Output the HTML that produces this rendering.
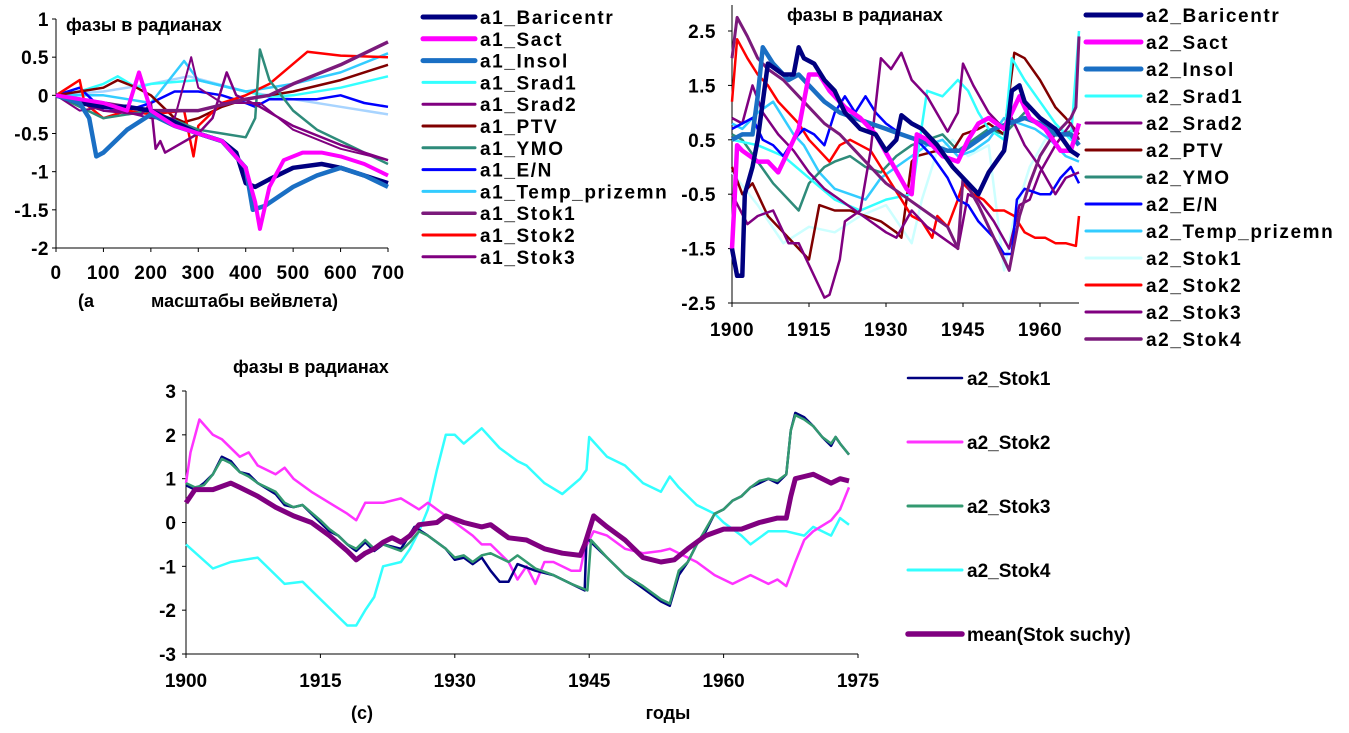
<!DOCTYPE html>
<html><head><meta charset="utf-8">
<style>
html,body{margin:0;padding:0;background:#fff;width:1349px;height:733px;overflow:hidden}
svg text{font-family:"Liberation Sans",Arial,sans-serif;font-weight:bold;fill:#000}
.wide{letter-spacing:1.6px}
.tk{letter-spacing:0.5px}
</style></head>
<body>
<svg id="root" width="1349" height="733" xmlns="http://www.w3.org/2000/svg"></svg>
<script>
// ---------- Chart A data (x = wavelet scale, y = phase) ----------
const aTicksX = [0,100,200,300,400,500,600,700];
const aTicksY = [1,0.5,0,-0.5,-1,-1.5,-2];
const aTickLabelsY = ["1","0.5","0","-0.5","-1","-1.5","-2"];
const aBaricentr = [[0,0],[50,-0.1],[100,-0.15],[150,-0.15],[200,-0.2],[250,-0.35],[300,-0.5],[350,-0.6],[380,-0.75],[400,-1.15],[420,-1.2],[450,-1.1],[500,-0.95],[560,-0.9],[600,-0.95],[650,-1.05],[700,-1.15]];
const aSact = [[0,0],[100,-0.1],[150,-0.2],[175,0.3],[200,-0.2],[250,-0.4],[300,-0.5],[350,-0.6],[400,-0.95],[420,-1.4],[430,-1.75],[450,-1.2],[480,-0.85],[520,-0.75],[560,-0.75],[600,-0.8],[650,-0.9],[700,-1.05]];
const aInsol = [[0,0],[50,-0.1],[70,-0.3],[85,-0.8],[100,-0.75],[150,-0.45],[200,-0.25],[250,-0.4],[300,-0.5],[350,-0.6],[400,-0.95],[415,-1.5],[440,-1.45],[500,-1.2],[550,-1.05],[600,-0.95],[650,-1.05],[700,-1.2]];
const aSrad1 = [[0,0],[50,0.05],[100,0.15],[130,0.25],[170,0.1],[200,0.15],[300,0.2],[400,0.05],[450,-0.02],[500,0],[600,0.1],[700,0.25]];
const aSrad2 = [[0,0],[100,-0.2],[180,-0.25],[200,-0.1],[210,-0.7],[220,-0.6],[230,-0.75],[300,-0.5],[330,-0.3],[360,0.3],[380,0],[430,-0.15],[500,-0.4],[600,-0.65],[700,-0.85]];
const aPTV = [[0,0],[50,0.05],[100,0.1],[130,0.2],[170,0.1],[200,0],[250,-0.3],[270,-0.35],[300,-0.3],[350,-0.15],[400,-0.05],[450,0],[500,0.05],[600,0.2],[700,0.4]];
const aYMO = [[0,0],[100,-0.3],[200,-0.2],[300,-0.45],[350,-0.5],[400,-0.55],[420,-0.3],[430,0.6],[450,0.2],[500,-0.2],[550,-0.45],[600,-0.6],[700,-0.9]];
const aEN = [[0,0],[50,0.1],[100,-0.2],[150,-0.2],[200,-0.1],[250,0.05],[300,0.05],[350,0],[400,-0.1],[420,-0.15],[450,-0.05],[550,-0.05],[600,0],[650,-0.1],[700,-0.15]];
const aTemp = [[0,0],[100,0],[200,-0.1],[270,0.45],[300,0.2],[400,0.05],[500,0.15],[600,0.3],[700,0.55]];
const aStok1 = [[0,0],[100,-0.1],[200,-0.2],[300,-0.2],[400,-0.05],[450,0],[500,0.15],[600,0.4],[700,0.7]];
const aStok2 = [[0,0],[50,0.2],[60,-0.1],[100,-0.3],[150,-0.2],[200,-0.25],[270,-0.2],[290,-0.8],[300,-0.4],[350,-0.1],[400,0],[450,0.15],[530,0.57],[600,0.52],[700,0.5]];
const aStok3 = [[0,0],[50,-0.2],[100,-0.15],[200,-0.3],[250,-0.3],[285,0.5],[300,0.1],[350,-0.1],[430,-0.1],[500,-0.45],[600,-0.7],[700,-0.85]];
const aPale = [[0,0],[100,0.05],[200,0.15],[280,0.25],[400,0.05],[500,-0.05],[600,-0.15],[700,-0.25]];

// ---------- Chart B data (x = year) ----------
const bTicksX = [1900,1915,1930,1945,1960];
const bTicksY = [2.5,1.5,0.5,-0.5,-1.5,-2.5];
const bBaricentr = [[1900,-1.5],[1901,-2],[1902,-2],[1902.5,-0.5],[1904,0],[1905,0.5],[1906,1.2],[1907,1.9],[1910,1.7],[1912,1.7],[1913,2.2],[1914,2],[1916,1.9],[1918,1.6],[1920,1.4],[1922,1],[1925,0.7],[1928,0.6],[1930,0.3],[1932,0.5],[1933,0.95],[1935,0.8],[1937,0.7],[1940,0.4],[1943,0],[1946,-0.3],[1948,-0.5],[1950,-0.1],[1953,0.3],[1953.5,0.6],[1954.5,1.4],[1956,1.5],[1957,1.2],[1960,0.9],[1963,0.7],[1966,0.3],[1967.6,0.2]];
const bSact = [[1900,-1.5],[1900.5,-0.6],[1901,0.4],[1902,0.3],[1905,0.1],[1907,0.1],[1909,-0.1],[1911,0.3],[1913,0.7],[1915,1.7],[1917,1.7],[1919,1.4],[1922,1.1],[1925,0.9],[1928,0.6],[1931,0.1],[1934,-0.4],[1935,-0.5],[1936,0.6],[1938,0.5],[1941,0.2],[1944,0.1],[1946,0.5],[1948,0.8],[1950,0.9],[1953,0.7],[1956,1.3],[1958,0.9],[1961,0.7],[1964,0.3],[1966,0.3],[1967.6,0.8]];
const bInsol = [[1900,0.5],[1902,0.6],[1904,0.6],[1905,1.3],[1906,2.2],[1908,1.9],[1911,1.6],[1913,1.7],[1915,1.5],[1918,1.2],[1921,1],[1924,0.9],[1927,0.8],[1930,0.7],[1933,0.6],[1936,0.5],[1939,0.4],[1942,0.3],[1945,0.3],[1948,0.5],[1951,0.7],[1954,0.8],[1957,0.9],[1960,0.8],[1963,0.6],[1966,0.6],[1967.6,0.4]];
const bSrad1 = [[1900,0.5],[1905,0.4],[1910,0.2],[1915,-0.2],[1920,-0.6],[1925,-0.8],[1930,-0.6],[1935,-0.5],[1938,1.4],[1941,1.3],[1944,1.6],[1946,1.4],[1948,1],[1950,0.7],[1953,0.5],[1954.5,2],[1957,1.6],[1960,1.2],[1963,0.8],[1966,0.5],[1967.6,2.5]];
const bSrad2 = [[1900,0.9],[1902,0.8],[1904,1.5],[1906,1],[1909,0.6],[1912,0.3],[1915,-0.1],[1918,-0.4],[1921,-0.6],[1924,-0.8],[1927,-1],[1930,-1.2],[1932,-1.3],[1935,-0.8],[1938,-1.1],[1941,-1.3],[1944,-1.5],[1946,-0.5],[1948,-0.6],[1951,-1],[1954,-1.5],[1956,-0.7],[1958,-0.6],[1960,-0.1],[1963,0.4],[1966,0.8],[1967.6,0.5]];
const bPTV = [[1900,0],[1902,-0.5],[1904,-0.3],[1905,-0.5],[1907,-0.9],[1910,-1.2],[1913,-1.5],[1915,-1.7],[1917,-0.7],[1920,-0.8],[1923,-0.8],[1926,-0.9],[1929,-1],[1932,-1.2],[1933,-1.3],[1935,0.1],[1936,0.2],[1940,0.3],[1943,0.3],[1945,0.6],[1948,0.7],[1950,0.8],[1953,0.6],[1955,2.1],[1957,2],[1960,1.6],[1963,1.1],[1965,0.9],[1967.6,0.6]];
const bYMO = [[1900,0.6],[1902,0.5],[1905,0.1],[1908,-0.3],[1911,-0.6],[1913,-0.8],[1915,-0.3],[1918,0],[1920,0.1],[1923,0.2],[1926,0],[1929,-0.1],[1932,0.2],[1935,0.4],[1938,0.5],[1941,0.6],[1944,0.3],[1947,0.5],[1950,0.7],[1953,0.6],[1956,0.9],[1958,1.1],[1961,0.8],[1964,0.6],[1967.6,0.7]];
const bEN = [[1900,0.7],[1902,0.8],[1904,0.9],[1906,0.5],[1908,0.4],[1910,0.2],[1912,0.5],[1914,0.7],[1916,0.6],[1918,0.4],[1920,1],[1922,1.3],[1924,1],[1926,1.3],[1928,1],[1930,0.8],[1933,0.6],[1936,0.5],[1939,0.2],[1942,-0.2],[1944,-0.6],[1946,-0.7],[1948,-1],[1951,-1.3],[1953,-1.6],[1954.5,-1.6],[1955.5,-0.6],[1957,-0.4],[1960,-0.5],[1962,-0.5],[1964,-0.2],[1966,0],[1967.6,-0.3]];
const bTemp = [[1900,0.8],[1902,0.7],[1905,1],[1908,1.2],[1912,0.6],[1914,0.4],[1917,-0.1],[1920,-0.4],[1923,-0.5],[1926,-0.6],[1929,-0.2],[1932,0],[1935,0.2],[1938,0.4],[1941,0.5],[1944,0.2],[1947,0.3],[1950,0.5],[1953,0.9],[1956,0.8],[1959,0.7],[1962,0.5],[1965,0.2],[1967.6,0.1]];
const bStok1 = [[1900,-0.1],[1905,-0.7],[1910,-1.4],[1915,-1.1],[1920,-1.2],[1925,-0.9],[1930,-0.7],[1935,-1.4],[1937,-0.6],[1940,0.3],[1943,0.5],[1946,0.2],[1950,0.4],[1953,-1.9],[1955,-0.9],[1958,0],[1961,0.5],[1964,0.7],[1967.6,0.6]];
const bStok2 = [[1900,1.2],[1901,2.35],[1903,2],[1905,1.7],[1907,1.5],[1909,1.2],[1911,1],[1913,0.8],[1915,0.5],[1917,0.3],[1919,0.1],[1921,0.4],[1923,0.5],[1925,0.4],[1927,0.3],[1929,0],[1931,-0.3],[1933,-0.6],[1935,-0.9],[1937,-1],[1939,-1.3],[1940,-0.9],[1942,-1.1],[1944,-0.6],[1945,-0.3],[1947,-0.5],[1949,-0.6],[1951,-0.8],[1953,-0.8],[1955,-0.9],[1957,-1.2],[1959,-1.3],[1961,-1.3],[1963,-1.4],[1965,-1.4],[1967,-1.45],[1967.6,-0.9]];
const bStok3 = [[1900,-0.5],[1903,-1.05],[1905,-0.9],[1908,-0.8],[1911,-1.4],[1913,-1.4],[1918,-2.4],[1919,-2.35],[1921,-1.7],[1922,-1],[1925,-0.8],[1927,0.3],[1929,2],[1931,1.8],[1933,2.1],[1935,1.6],[1938,1.3],[1942,0.65],[1944,1],[1945,1.9],[1947,1.5],[1950,1],[1953,0.7],[1954,1],[1957,0.4],[1960,0],[1963,-0.5],[1965,-0.2],[1967.6,-0.1]];
const bStok4 = [[1900,2],[1901,2.75],[1903,2.4],[1905,2],[1907,1.8],[1910,1.6],[1913,1.3],[1915,1.1],[1918,0.8],[1921,0.6],[1924,0.3],[1927,0],[1930,-0.3],[1933,-0.5],[1936,-0.7],[1939,-0.9],[1942,-1.1],[1944,-1.5],[1945,-0.2],[1948,-0.7],[1951,-1.3],[1954,-1.9],[1956,-0.9],[1958,-0.3],[1960,0.2],[1962,0.5],[1964,0.7],[1966,0.9],[1967,1.1],[1967.6,2.4]];

// ---------- Chart C data (x = year) ----------
const cTicksX = [1900,1915,1930,1945,1960,1975];
const cTicksY = [3,2,1,0,-1,-2,-3];
const cStok1 = [[1900,0.85],[1901,0.75],[1902,0.9],[1903,1.1],[1904,1.5],[1905,1.4],[1906,1.15],[1907,1.1],[1908,0.9],[1910,0.65],[1911,0.4],[1912,0.35],[1913,0.4],[1915,0],[1916,-0.2],[1917,-0.3],[1918,-0.5],[1919,-0.65],[1920,-0.45],[1921,-0.65],[1922,-0.5],[1924,-0.6],[1925.5,-0.1],[1927,-0.3],[1929,-0.6],[1930,-0.85],[1931,-0.8],[1932,-0.95],[1933,-0.8],[1934,-1.1],[1935,-1.35],[1936,-1.35],[1937,-0.95],[1939,-1.1],[1941,-1.2],[1943,-1.4],[1944.5,-1.55],[1944.7,-0.35],[1947,-0.8],[1949,-1.2],[1951,-1.5],[1953,-1.8],[1954,-1.9],[1955,-1.2],[1956,-0.9],[1957,-0.5],[1958,-0.2],[1959,0.2],[1960,0.3],[1961,0.5],[1962,0.6],[1963,0.8],[1964,0.9],[1965,1],[1966,0.9],[1967,1.1],[1967.5,2.1],[1968,2.5],[1969,2.4],[1970,2.2],[1971,1.95],[1972,1.75],[1972.5,1.95],[1973,1.8],[1974,1.55]];
const cStok2 = [[1900,0.9],[1900.5,1.6],[1901.5,2.35],[1903,2],[1904,1.9],[1906,1.5],[1907,1.6],[1908,1.3],[1910,1.1],[1911,1.25],[1912,1],[1914,0.7],[1916,0.45],[1918,0.2],[1919,0.05],[1920,0.45],[1922,0.45],[1924,0.55],[1926,0.3],[1927,0.45],[1928,0.3],[1930,0],[1932,-0.3],[1933,-0.5],[1934,-0.5],[1936,-0.9],[1937,-1.3],[1938,-1],[1939,-1.4],[1940,-0.9],[1941,-0.9],[1943,-1.1],[1944,-1.1],[1944.5,-0.6],[1945.5,-0.2],[1947,-0.3],[1949,-0.6],[1951,-0.7],[1953,-0.65],[1954,-0.6],[1955,-0.7],[1957,-0.9],[1959,-1.2],[1961,-1.4],[1963,-1.2],[1965,-1.4],[1966,-1.3],[1967,-1.45],[1968,-0.9],[1969,-0.4],[1970,-0.2],[1972,0.05],[1973,0.3],[1974,0.8]];
const cStok3 = [[1900,0.9],[1901,0.8],[1902,0.85],[1903,1.1],[1904,1.45],[1905,1.35],[1906,1.15],[1907,1.05],[1908,0.9],[1910,0.7],[1911,0.45],[1912,0.35],[1913,0.4],[1915,0.05],[1916,-0.15],[1917,-0.3],[1918,-0.5],[1919,-0.6],[1920,-0.4],[1921,-0.6],[1922,-0.5],[1924,-0.65],[1925,-0.45],[1926,-0.2],[1927,-0.3],[1929,-0.6],[1930,-0.8],[1931,-0.75],[1932,-0.9],[1933,-0.75],[1934,-0.7],[1936,-0.9],[1937,-0.75],[1939,-1.05],[1941,-1.2],[1943,-1.4],[1944.8,-1.55],[1945.2,-0.4],[1947,-0.8],[1949,-1.2],[1951,-1.45],[1953,-1.75],[1954,-1.85],[1955,-1.1],[1956,-0.9],[1957,-0.5],[1958,-0.15],[1959,0.2],[1960,0.3],[1961,0.5],[1962,0.6],[1963,0.8],[1964,0.95],[1965,1],[1966,0.95],[1967,1.1],[1967.5,2.1],[1968,2.45],[1969,2.35],[1970,2.2],[1971,1.95],[1972,1.8],[1972.5,1.95],[1973,1.8],[1974,1.55]];
const cStok4 = [[1900,-0.5],[1903,-1.05],[1905,-0.9],[1908,-0.8],[1911,-1.4],[1913,-1.35],[1918,-2.35],[1919,-2.35],[1920,-2],[1921,-1.7],[1922,-1],[1924,-0.9],[1925,-0.6],[1926,-0.2],[1927,0.3],[1928,1.2],[1929,2],[1930,2],[1931,1.8],[1933,2.15],[1935,1.7],[1937,1.4],[1938,1.3],[1940,0.9],[1942,0.65],[1944,1],[1944.7,1.2],[1945,1.95],[1947,1.5],[1949,1.3],[1951,0.9],[1953,0.7],[1954,1.05],[1955,0.8],[1957,0.4],[1959,0.2],[1960,0],[1962,-0.3],[1963,-0.5],[1965,-0.2],[1967,-0.2],[1969,-0.3],[1970,-0.1],[1972,-0.3],[1973,0.1],[1974,-0.05]];
const cMean = [[1900,0.45],[1901,0.75],[1903,0.75],[1905,0.9],[1906,0.8],[1908,0.6],[1910,0.35],[1912,0.15],[1914,0],[1916,-0.3],[1918,-0.65],[1919,-0.85],[1920,-0.7],[1921,-0.6],[1922,-0.45],[1923,-0.35],[1924,-0.45],[1925,-0.3],[1926,-0.05],[1928,0],[1929,0.15],[1931,0],[1933,-0.1],[1934,-0.05],[1935,-0.2],[1936,-0.35],[1938,-0.4],[1940,-0.6],[1942,-0.7],[1944,-0.75],[1944.5,-0.5],[1945.5,0.15],[1947,-0.1],[1949,-0.4],[1951,-0.8],[1953,-0.9],[1954.5,-0.85],[1956,-0.6],[1958,-0.3],[1960,-0.15],[1962,-0.15],[1964,0],[1966,0.1],[1967,0.1],[1967.5,0.6],[1968,1],[1969,1.05],[1970,1.1],[1972,0.9],[1973,1],[1974,0.95]];

const NS = "http://www.w3.org/2000/svg";
const root = document.getElementById('root');
function mk(tag, attrs, parent){
  const e = document.createElementNS(NS, tag);
  for (const k in attrs) e.setAttribute(k, attrs[k]);
  (parent||root).appendChild(e);
  return e;
}
function txt(s, x, y, size, anchor, parent, cls){
  const t = mk('text', {x:x, y:y, 'font-size':size, 'text-anchor':anchor||'start'}, parent);
  if (cls) t.setAttribute('class', cls);
  t.textContent = s;
  return t;
}
function linScale(d0,d1,r0,r1){ return v => r0 + (v-d0)*(r1-r0)/(d1-d0); }
function drawLine(g, data, sx, sy, color, w){
  return mk('polyline', {points: data.map(d => sx(d[0]).toFixed(1)+','+sy(d[1]).toFixed(1)).join(' '), fill:'none', stroke:color, 'stroke-width':w, 'stroke-linejoin':'round'}, g);
}
function axes(g, x0, x1, yTop, yBot, axisY){
  const a = mk('line', {x1:x0, y1:yTop, x2:x0, y2:yBot, stroke:'#000', 'stroke-width':1}, g);
  
  
  const b = mk('line', {x1:x0, y1:axisY, x2:x1, y2:axisY, stroke:'#000', 'stroke-width':1}, g);
  
  
}
function legend(g, items, lx0, lx1, ly0, step, size, cls){
  items.forEach((it, i) => {
    const y = ly0 + i*step;
    const le = mk('g', {}, g);
    
    
    mk('line', {x1:lx0, y1:y, x2:lx1, y2:y, stroke:it[1], 'stroke-width':it[2], 'stroke-linecap':'round'}, le);
    txt(it[0], lx1+5, y+7, size, 'start', le, cls);
  });
}

// ================= Chart A =================
(function(){
  const g = mk('g', {});
  
  
  const sx = linScale(0, 700, 56, 388), sy = linScale(1, -2, 19, 248);
  axes(g, 56, 388, 19, 248, 248);
  aTicksY.forEach((v,i) => {
    mk('line', {x1:52, y1:sy(v), x2:56, y2:sy(v), stroke:'#000'}, g);
    const t = txt(aTickLabelsY[i], 49, sy(v)+7, 19, 'end', g, 'tk');
    
    
  });
  aTicksX.forEach(v => {
    mk('line', {x1:sx(v), y1:248, x2:sx(v), y2:252, stroke:'#000'}, g);
    const t = txt(String(v), sx(v), 279, 19, 'middle', g, 'tk');
    
    
  });
  const ti = txt('фазы в радианах', 66, 31, 18, 'start', g);
  
  
  const xl1 = txt('(a', 78, 307, 18, 'start', g);
  
  
  const xl2 = txt('масштабы вейвлета)', 151, 307, 18, 'start', g);
  
  
  const series = [
    [aPale,'#a8d4ff',2.5],[aSrad1,'#33ffff',2.5],[aTemp,'#33ccff',2.5],[aEN,'#0000ff',2.5],[aPTV,'#800000',2.5],
    [aStok2,'#ff0000',2.5],[aYMO,'#2e8b7a',2.5],[aStok3,'#800080',2],[aSrad2,'#800080',2.5],[aStok1,'#7b1a7b',3.5],
    [aBaricentr,'#000080',4.5],[aInsol,'#1a6fc4',4.5],[aSact,'#ff00ff',4]
  ];
  series.forEach(s => {
    const l = drawLine(g, s[0], sx, sy, s[1], s[2]);
    
    
  });
  legend(g, [['a1_Baricentr','#000080',5],['a1_Sact','#ff00ff',5],['a1_Insol','#1a6fc4',5],['a1_Srad1','#33ffff',3],['a1_Srad2','#800080',3],['a1_PTV','#800000',3],['a1_YMO','#2e8b7a',3],['a1_E/N','#0000ff',3],['a1_Temp_prizemn','#33ccff',3],['a1_Stok1','#7b1a7b',3.5],['a1_Stok2','#ff0000',3],['a1_Stok3','#800080',3]], 423, 475, 17, 21.8, 19, 'wide');
})();

// ================= Chart B =================
(function(){
  const g = mk('g', {});
  
  
  const sx = linScale(1900, 1960, 732, 1040), sy = linScale(2.5, -2.5, 31, 303);
  axes(g, 732, 1079, 5, 303, 303);
  bTicksY.forEach(v => {
    mk('line', {x1:728, y1:sy(v), x2:732, y2:sy(v), stroke:'#000'}, g);
    const t = txt(String(v), 716, sy(v)+7, 19, 'end', g, 'tk');
    
    
  });
  bTicksX.forEach(v => {
    mk('line', {x1:sx(v), y1:303, x2:sx(v), y2:307, stroke:'#000'}, g);
    const t = txt(String(v), sx(v), 336, 19, 'middle', g, 'tk');
    
    
  });
  const ti = txt('фазы в радианах', 787, 21, 18, 'start', g);
  
  
  const series = [
    [bStok1,'#ccffff',2.5],[bTemp,'#33ccff',2.5],[bYMO,'#2e8b7a',2.5],[bPTV,'#800000',2.5],[bSrad1,'#33ffff',2.5],
    [bStok2,'#ff0000',2.5],[bSrad2,'#800080',2.5],[bEN,'#0000ff',2.5],[bStok3,'#800080',2.5],[bStok4,'#7b1a7b',3],
    [bInsol,'#1a6fc4',4.5],[bSact,'#ff00ff',4.5],[bBaricentr,'#000080',4.5]
  ];
  series.forEach(s => {
    const l = drawLine(g, s[0], sx, sy, s[1], s[2]);
    
    
  });
  legend(g, [['a2_Baricentr','#000080',5],['a2_Sact','#ff00ff',5],['a2_Insol','#1a6fc4',5],['a2_Srad1','#33ffff',3],['a2_Srad2','#800080',3],['a2_PTV','#800000',3],['a2_YMO','#2e8b7a',3],['a2_E/N','#0000ff',3],['a2_Temp_prizemn','#33ccff',3],['a2_Stok1','#ccffff',3],['a2_Stok2','#ff0000',3],['a2_Stok3','#800080',3],['a2_Stok4','#7b1a7b',3.5]], 1086, 1141, 15, 27, 19, 'wide');
})();

// ================= Chart C =================
(function(){
  const g = mk('g', {});
  
  
  const sx = linScale(1900, 1975, 186, 858), sy = linScale(3, -3, 391, 654);
  axes(g, 186, 858, 391, 654, 654);
  cTicksY.forEach(v => {
    mk('line', {x1:182, y1:sy(v), x2:186, y2:sy(v), stroke:'#000'}, g);
    const t = txt(String(v), 176, sy(v)+7, 19, 'end', g);
    
    
  });
  cTicksX.forEach(v => {
    mk('line', {x1:sx(v), y1:654, x2:sx(v), y2:658, stroke:'#000'}, g);
    const t = txt(String(v), sx(v), 687, 19, 'middle', g);
    
    
  });
  const ti = txt('фазы в радианах', 233, 373, 18, 'start', g);
  
  
  const pl = txt('(c)', 362, 719, 18, 'middle', g);
  
  
  const xt = txt('годы', 668, 719, 18, 'middle', g);
  
  
  const series = [
    [cStok4,'#33ffff',2.5],[cStok2,'#ff33ff',2.5],[cStok1,'#000080',2.5],[cStok3,'#339970',2.5],[cMean,'#800080',5]
  ];
  series.forEach(s => {
    const l = drawLine(g, s[0], sx, sy, s[1], s[2]);
    
    
  });
  legend(g, [['a2_Stok1','#000080',2.5],['a2_Stok2','#ff33ff',3],['a2_Stok3','#339970',3],['a2_Stok4','#33ffff',3],['mean(Stok suchy)','#800080',5.5]], 908, 962, 378, 64, 19);
})();
</script>
</body></html>
